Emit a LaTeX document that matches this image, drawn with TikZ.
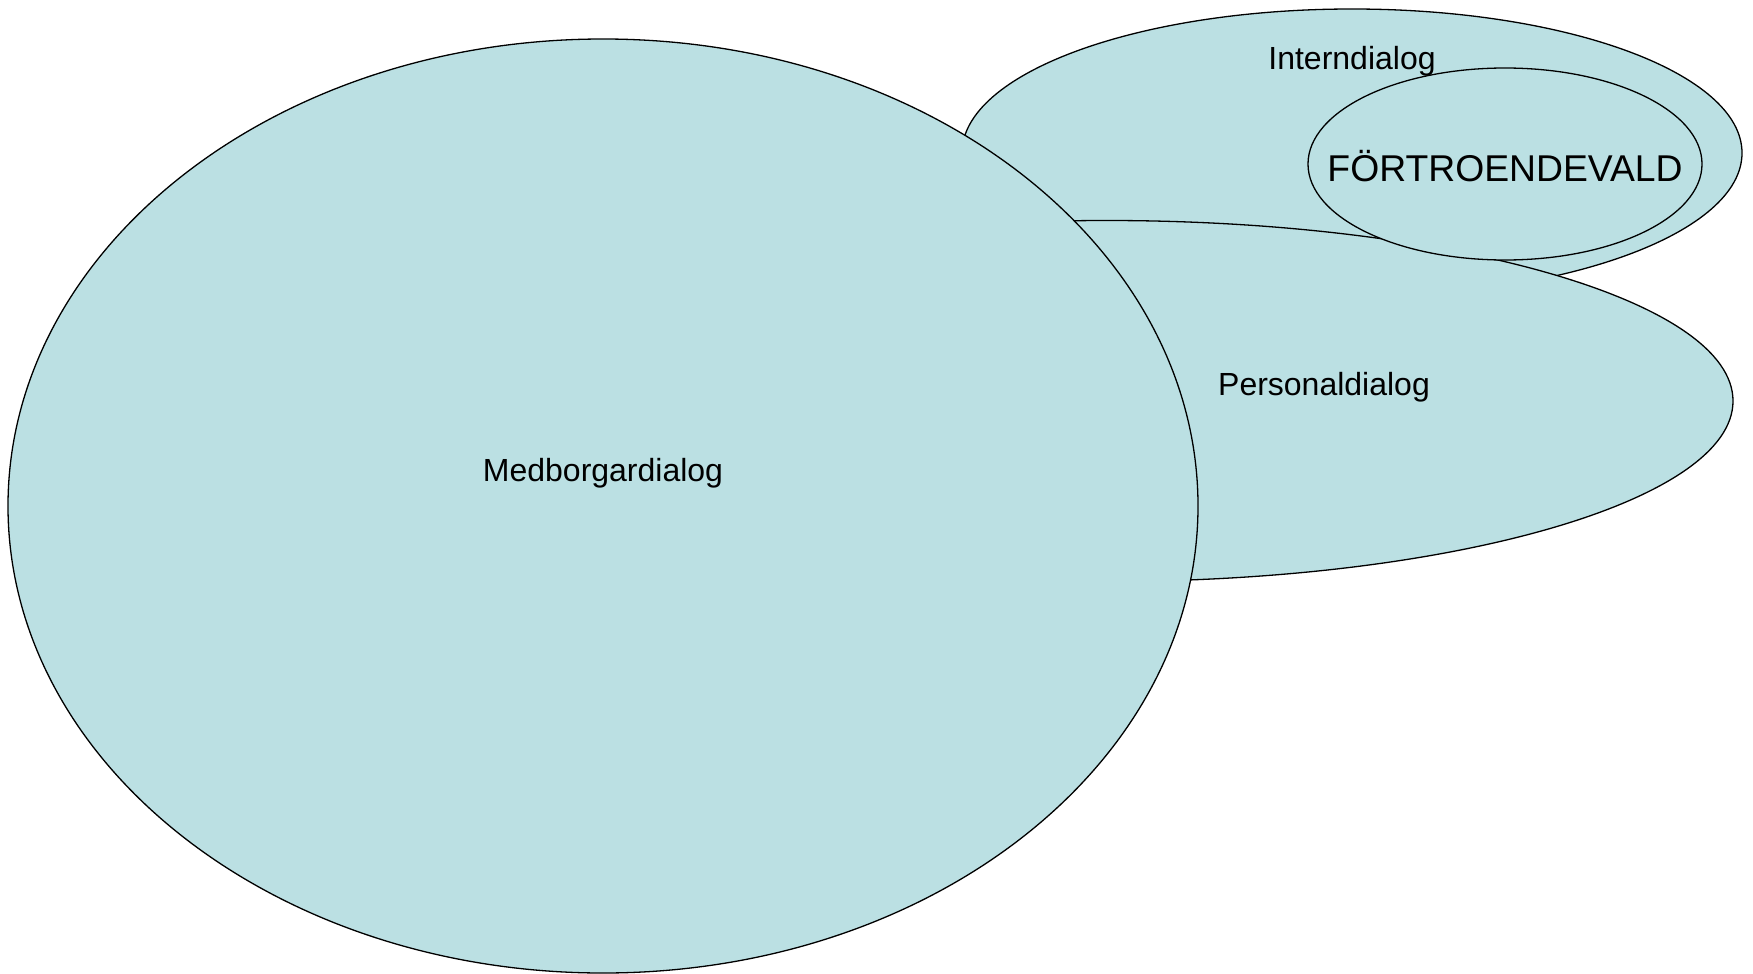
\documentclass[tikz,border=0pt]{standalone}
\usepackage{fontspec}
\setmainfont{Liberation Sans}
\usetikzlibrary{shapes.geometric}
\definecolor{blobfill}{RGB}{187,224,227}
\begin{document}
\begin{tikzpicture}[x=1pt,y=-1pt,
  blob/.style={ellipse,draw=black,line width=1.3pt,fill=blobfill,inner sep=0pt},
  lbl/.style={font=\fontsize{32}{38}\selectfont,inner sep=0pt}]
\useasboundingbox (0,0) rectangle (1753,974);
\node[blob,minimum width=780pt,minimum height=288pt] (intern) at (1352,153) {};
\node[blob,minimum width=1252pt,minimum height=361pt] (personal) at (1107,401) {};
\node[blob,minimum width=394pt,minimum height=192pt] (fort) at (1505,164) {};
\node[blob,minimum width=1190pt,minimum height=934pt] (medb) at (603,506) {};
\node[lbl] (tintern) at (1352,61) {Interndialog};
\node[lbl,font=\fontsize{37.3}{43}\selectfont] (tfort) at (1505,166) {FÖRTROENDEVALD};
\node[lbl] (tpers) at (1324,387) {Personaldialog};
\node[lbl] (tmedb) at (603,473) {Medborgardialog};
\end{tikzpicture}
\end{document}
